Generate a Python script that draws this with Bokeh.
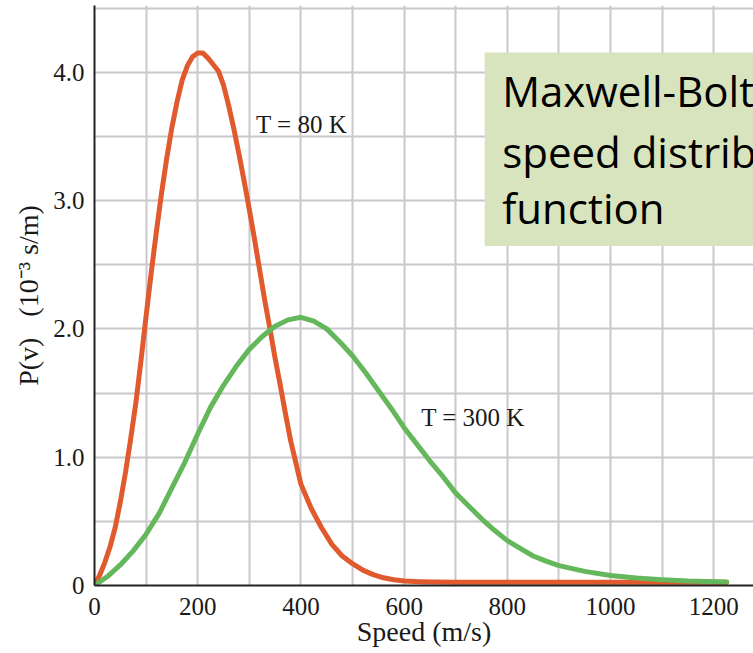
from bokeh.plotting import figure
from bokeh.models import Range1d, FixedTicker, BoxAnnotation, Label, PrintfTickFormatter
from bokeh.embed import file_html
from bokeh.resources import INLINE

# ---- data (speed in m/s, P(v) in 10^-3 s/m) ----
speed_80 = [0, 10, 20, 30, 40, 50, 60, 70, 80, 90, 100, 110, 120, 130, 140, 150,
            160, 170, 180, 190, 200, 210, 220, 230, 240, 250, 260, 270, 280, 290,
            300, 310, 320, 330, 340, 350, 360, 370, 380, 390, 400, 420, 440, 460,
            480, 500, 520, 540, 560, 580, 600, 630, 660, 700, 800, 900, 1000, 1100, 1225]
p_80 = [0.0, 0.08, 0.18, 0.30, 0.45, 0.65, 0.88, 1.14, 1.42, 1.75, 2.10, 2.44, 2.76,
        3.06, 3.33, 3.57, 3.77, 3.94, 4.05, 4.12, 4.15, 4.15, 4.11, 4.06, 4.01, 3.90,
        3.74, 3.56, 3.36, 3.15, 2.93, 2.70, 2.46, 2.22, 2.00, 1.77, 1.56, 1.34, 1.13,
        0.96, 0.79, 0.60, 0.45, 0.32, 0.23, 0.17, 0.12, 0.085, 0.06, 0.045, 0.035,
        0.03, 0.027, 0.025, 0.025, 0.025, 0.025, 0.025, 0.025]

speed_300 = [0, 25, 50, 75, 100, 125, 150, 175, 200, 225, 250, 275, 300, 325, 350,
             375, 400, 425, 450, 475, 500, 525, 550, 575, 600, 625, 650, 675, 700,
             725, 750, 775, 800, 825, 850, 875, 900, 950, 1000, 1050, 1100, 1150, 1225]
p_300 = [0.0, 0.07, 0.16, 0.27, 0.40, 0.56, 0.76, 0.96, 1.18, 1.39, 1.56, 1.71, 1.84,
         1.94, 2.02, 2.07, 2.09, 2.06, 2.00, 1.90, 1.79, 1.66, 1.52, 1.38, 1.23, 1.10,
         0.97, 0.85, 0.72, 0.62, 0.52, 0.43, 0.35, 0.29, 0.23, 0.19, 0.155, 0.11,
         0.078, 0.058, 0.045, 0.035, 0.028]

x_tick_labels = [0, 200, 400, 600, 800, 1000, 1200]
x_grid = [0, 100, 200, 300, 400, 500, 600, 700, 800, 900, 1000, 1100, 1200]
y_tick_labels = [0, 1, 2, 3, 4]
y_grid = [0, 0.5, 1, 1.5, 2, 2.5, 3, 3.5, 4, 4.5]

curve_labels = ["T = 80 K", "T = 300 K"]
curve_label_x = [313, 633]
curve_label_y = [3.589, 1.309]

note_lines = ["Maxwell-Boltzmann", "speed distribution", "function"]
note_x = 790
note_y = [3.858, 3.382, 2.946]
note_box = dict(left=756, top=4.154, bottom=2.645)

RED = "#e05a2d"
GREEN = "#64b75a"
GRID = "#c8c8cd"
SERIF = "Liberation Serif"

p = figure(width=753, height=653, x_range=Range1d(0, 1277), y_range=Range1d(0, 4.52),
           output_backend="svg", toolbar_location=None,
           min_border_left=94, min_border_right=0, min_border_top=5, min_border_bottom=68)
p.outline_line_color = None
p.background_fill_color = "white"
p.border_fill_color = "white"

# grids
p.xgrid.ticker = FixedTicker(ticks=x_grid)
p.ygrid.ticker = FixedTicker(ticks=y_grid)
for g in (p.xgrid, p.ygrid):
    g.grid_line_color = GRID
    g.grid_line_width = 2

# axes
p.xaxis.ticker = FixedTicker(ticks=x_tick_labels)
p.yaxis.ticker = FixedTicker(ticks=y_tick_labels)
p.yaxis.formatter = PrintfTickFormatter(format="%.1f")
p.yaxis.major_label_overrides = {0: "0"}
for ax in (p.xaxis, p.yaxis):
    ax.axis_line_color = "#222222"
    ax.axis_line_width = 2
    ax.major_tick_line_color = None
    ax.minor_tick_line_color = None
    ax.major_tick_out = 0
    ax.major_tick_in = 0
    ax.major_label_text_font = SERIF
    ax.major_label_text_font_size = "25px"
    ax.major_label_text_color = "#1a1a1a"
    ax.axis_label_text_font = SERIF
    ax.axis_label_text_font_size = "28px"
    ax.axis_label_text_font_style = "normal"
    ax.axis_label_text_color = "#1a1a1a"
p.xaxis.major_label_standoff = 12
p.yaxis.major_label_standoff = 10
p.xaxis.axis_label = "Speed (m/s)"
p.xaxis.axis_label_standoff = -2
p.yaxis.axis_label = "P(v)\u00a0\u00a0\u00a0(10⁻³ s/m)"
p.yaxis.axis_label_standoff = 6

# curves
p.line(speed_80, p_80, line_color=RED, line_width=5, line_join="round", line_cap="round")
p.line(speed_300, p_300, line_color=GREEN, line_width=5, line_join="round", line_cap="round")

# curve labels
for t, lx, ly in zip(curve_labels, curve_label_x, curve_label_y):
    p.add_layout(Label(x=lx, y=ly, text=t, text_font=SERIF, text_font_size="25px",
                       text_color="#1a1a1a", text_align="left", text_baseline="alphabetic"))

# note box (the reference crops it at the right edge)
p.add_layout(BoxAnnotation(left=note_box["left"], top=note_box["top"], bottom=note_box["bottom"],
                           fill_color="#d8e4bd", fill_alpha=1.0, line_color=None))
for t, ly in zip(note_lines, note_y):
    p.add_layout(Label(x=note_x, y=ly, text=t, text_font="Open Sans", text_font_size="42px",
                       text_color="black", text_align="left", text_baseline="alphabetic"))

open("out.html", "w").write(file_html(p, INLINE))
